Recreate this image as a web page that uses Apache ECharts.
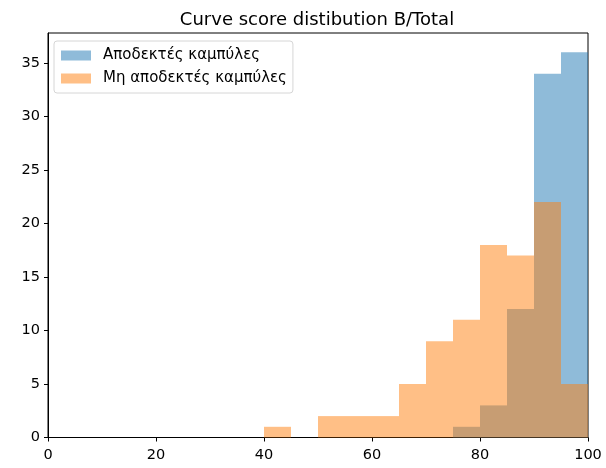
<!DOCTYPE html>
<html>
<head>
<meta charset="utf-8">
<script src="https://cdn.jsdelivr.net/npm/echarts@6/dist/echarts.min.js"></script>
<style>
  html, body { margin: 0; padding: 0; background: #fff; }
  #chart { width: 606px; height: 468px; }
</style>
</head>
<body>
<div id="chart"></div>
<script>
// Histogram bins: left edges, width 5
const binStarts = [40, 45, 50, 55, 60, 65, 70, 75, 80, 85, 90, 95];
const binWidth = 5;
const acceptedCounts = [0, 0, 0, 0, 0, 0, 0, 1, 3, 12, 34, 36];
const rejectedCounts = [1, 0, 2, 2, 2, 5, 9, 11, 18, 17, 22, 5];
const xTicks = [0, 20, 40, 60, 80, 100];
const yTicks = [0, 5, 10, 15, 20, 25, 30, 35];
const seriesNames = ['Αποδεκτές καμπύλες', 'Μη αποδεκτές καμπύλες'];
const titleText = 'Curve score distibution B/Total';

const FONT = 'DejaVu Sans';

function toBins(counts) {
  const out = [];
  binStarts.forEach((s, i) => {
    if (counts[i] > 0) out.push([s, s + binWidth, counts[i]]);
  });
  return out;
}

function renderBin(params, api) {
  const p0 = api.coord([api.value(0), api.value(2)]);
  const p1 = api.coord([api.value(1), 0]);
  return {
    type: 'rect',
    shape: { x: p0[0], y: p0[1], width: p1[0] - p0[0], height: p1[1] - p0[1] },
    style: api.style()
  };
}

const chart = echarts.init(document.getElementById('chart'), null, { renderer: 'canvas' });
chart.setOption({
  animation: false,
  backgroundColor: '#ffffff',
  title: {
    text: titleText,
    left: 312,
    textAlign: 'center',
    top: 6,
    textStyle: { fontFamily: FONT, fontSize: 18, fontWeight: 'normal', color: '#000' }
  },
  legend: {
    orient: 'vertical',
    left: 54,
    top: 41,
    padding: [7, 6, 7, 7],
    itemGap: 8,
    itemWidth: 30,
    itemHeight: 10,
    icon: 'rect',
    borderColor: '#d6d6d6',
    borderWidth: 1,
    borderRadius: 3,
    backgroundColor: 'rgba(255,255,255,0.8)',
    textStyle: { fontFamily: FONT, fontSize: 15, color: '#000', padding: [0, 0, 0, 7] },
    data: seriesNames
  },
  grid: {
    left: 48, right: 18, top: 33, bottom: 30.5,
    show: true, borderColor: '#000', borderWidth: 1
  },
  xAxis: {
    type: 'value',
    min: 0, max: 100, interval: 20,
    splitLine: { show: false },
    axisLine: { show: true, lineStyle: { color: '#000', width: 1 } },
    axisTick: { show: true, length: 4, lineStyle: { color: '#000' } },
    axisLabel: {
      fontFamily: FONT, fontSize: 14.5, color: '#000', margin: 10,
      formatter: v => xTicks.includes(v) ? String(v) : ''
    }
  },
  yAxis: {
    type: 'value',
    min: 0, max: 37.8, interval: 5,
    splitLine: { show: false },
    axisLine: { show: true, lineStyle: { color: '#000', width: 1 } },
    axisTick: { show: true, length: 4, lineStyle: { color: '#000' } },
    axisLabel: {
      fontFamily: FONT, fontSize: 14.5, color: '#000', margin: 8,
      showMaxLabel: false,
      formatter: v => yTicks.includes(v) ? String(v) : ''
    }
  },
  series: [
    {
      name: seriesNames[0],
      type: 'custom',
      renderItem: renderBin,
      encode: { x: [0, 1], y: 2 },
      itemStyle: { color: '#1f77b4', opacity: 0.5 },
      data: toBins(acceptedCounts)
    },
    {
      name: seriesNames[1],
      type: 'custom',
      renderItem: renderBin,
      encode: { x: [0, 1], y: 2 },
      itemStyle: { color: '#ff7f0e', opacity: 0.5 },
      data: toBins(rejectedCounts)
    }
  ]
});
</script>
</body>
</html>
